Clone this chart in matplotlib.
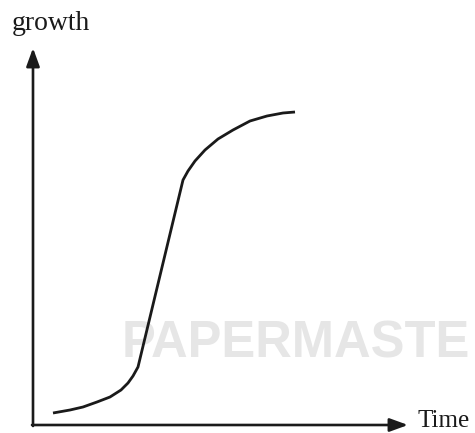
import matplotlib
matplotlib.use("Agg")
import matplotlib.pyplot as plt

# growth curve (time, growth)
time = [20, 37, 50, 64, 77, 88, 95, 100, 105, 150, 155, 162, 172, 185, 200, 217, 234, 250, 262]
growth = [12, 15, 18, 23, 28, 35, 42, 49, 58, 245, 254, 264, 275, 286, 295, 304, 309, 312, 313]

x_label = "Time"
y_label = "growth"
watermark = "PAPERMASTE"

fig = plt.figure(figsize=(4.75, 4.33), dpi=100)
ax = fig.add_axes([0, 0, 1, 1])
ax.set_xlim(-33, 442)
ax.set_ylim(-8, 425)
ax.axis("off")

# faint watermark behind everything
ax.text(89, 81, watermark, fontsize=36.5, fontweight="bold", family="Liberation Sans",
        color="#e6e6e6", va="center", ha="left", zorder=0)

# axes with arrow heads
arrow = dict(arrowstyle="-|>,head_length=1.1,head_width=0.4", color="#1a1a1a", lw=1.9,
             shrinkA=0, shrinkB=0)
ax.annotate("", xy=(0, 377), xytext=(0, -1), arrowprops=arrow)
ax.annotate("", xy=(375, 0), xytext=(-1, 0), arrowprops=arrow)

ax.plot(time, growth, color="#1a1a1a", lw=2.0, solid_capstyle="butt", zorder=3)

ax.text(-21, 395, y_label, fontsize=20, family="Liberation Serif", color="#1a1a1a",
        va="baseline", ha="left")
ax.text(384, -2, x_label, fontsize=18, family="Liberation Serif", color="#1a1a1a",
        va="baseline", ha="left")

fig.savefig("out.png", dpi=100)
